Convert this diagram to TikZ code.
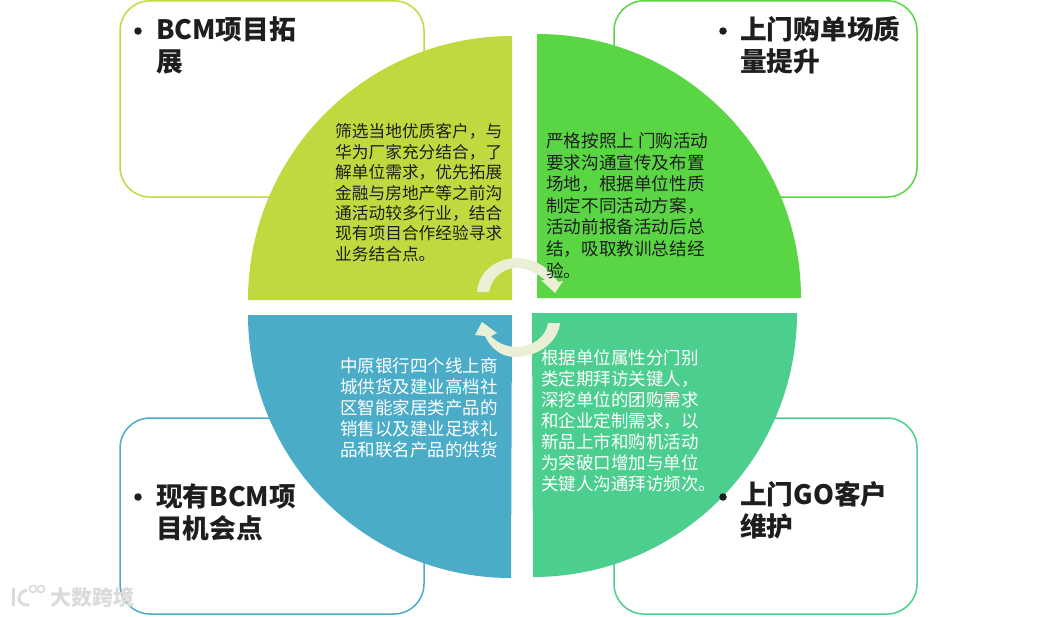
\documentclass[tikz,border=0pt]{standalone}
\usepackage{fontspec}
\setmainfont{Noto Sans CJK SC}
\usepackage{xcolor}
\usetikzlibrary{positioning}
\definecolor{limec}{HTML}{C1D93F}
\definecolor{grassc}{HTML}{5AD645}
\definecolor{tealc}{HTML}{4BACC8}
\definecolor{mintc}{HTML}{4BCE8E}
\definecolor{swirlc}{HTML}{E9F0D6}
\definecolor{inkc}{HTML}{1E1E1E}

\begin{document}
\begin{tikzpicture}[
    x=1pt, y=-1pt,
    card/.style={draw, line width=1.5pt, fill=white, rounded corners=30pt},
    body/.style={inner sep=0pt, anchor=north west, align=left},
    head/.style={inner sep=0pt, anchor=north west, align=left, text=inkc, font=\bfseries\fontsize{26.7}{32}\selectfont},
    dot/.style={circle, fill=inkc, inner sep=0pt, minimum size=7.5pt},
    swirl/.style={fill=swirlc}
]
\useasboundingbox (0,0) rectangle (1038,616);

% Cards
\draw[card, draw=limec] (120,0.8) rectangle (424,197);
\draw[card, draw=grassc] (614,0.8) rectangle (917,197);
\draw[card, draw=tealc] (120,418) rectangle (424,614);
\draw[card, draw=mintc] (614,418) rectangle (917,614);

% Quarter circles
\fill[limec] (512,300) -- (248,300) arc (180:270:264) -- cycle;
\fill[grassc] (537,298) -- (537,34) arc (270:360:264) -- cycle;
\fill[tealc] (512,315) -- (248,315) arc (180:90:263) -- cycle;
\fill[mintc] (532,313) -- (797,313) arc (0:90:264) -- cycle;

% Centre arrows
\fill[swirl] (477,292) .. controls (479,270) and (497,258) .. (518,258)
    .. controls (533,258) and (549,267) .. (558,282) -- (563,281) -- (555,293) -- (541,280) -- (545,280)
    .. controls (537,273) and (527,268) .. (517,268)
    .. controls (502,268) and (491,279) .. (489,292) -- cycle;
\fill[swirl] (560,323) .. controls (558,343) and (537,357) .. (515,357)
    .. controls (502,357) and (491,349) .. (485,336) -- (475,335) -- (482,322) -- (497,333) -- (491,336)
    .. controls (497,343) and (507,347) .. (517,347)
    .. controls (532,347) and (546,337) .. (548,323) -- cycle;

% Quarter texts
\node[body, text=inkc, font=\fontsize{16.7}{20.4}\selectfont] (limetext) at (335,123.5) {筛选当地优质客户，与\\华为厂家充分结合，了\\解单位需求，优先拓展\\金融与房地产等之前沟\\通活动较多行业，结合\\现有项目合作经验寻求\\业务结合点。};
\node[body, text=inkc, font=\fontsize{17.6}{21.6}\selectfont] (grasstext) at (546,132.5) {严格按照上 门购活动\\要求沟通宣传及布置\\场地，根据单位性质\\制定不同活动方案，\\活动前报备活动后总\\结，吸取教训总结经\\验。};
\node[body, text=white, font=\fontsize{17.5}{21}\selectfont] (tealtext) at (340,357.5) {中原银行四个线上商\\城供货及建业高档社\\区智能家居类产品的\\销售以及建业足球礼\\品和联名产品的供货};
\node[body, text=white, font=\fontsize{17.5}{21}\selectfont] (minttext) at (541,349) {根据单位属性分门别\\类定期拜访关键人，\\深挖单位的团购需求\\和企业定制需求，以\\新品上市和购机活动\\为突破口增加与单位\\关键人沟通拜访频次。};

% Card titles
\node[head] (limehead) at (156,16) {BCM项目拓\\展};
\node[dot] (limedot) at (138,31) {};
\node[head] (grasshead) at (740,16) {上门购单场质\\量提升};
\node[dot] (grassdot) at (723,31) {};
\node[head] (tealhead) at (156,483) {现有BCM项\\目机会点};
\node[dot] (tealdot) at (138,497) {};
\node[head] (minthead) at (740,481) {上门GO客户\\维护};
\node[dot] (mintdot) at (723,497) {};

% Watermark
\node[inner sep=0pt, anchor=west, text=gray!28, font=\bfseries\fontsize{21}{21}\selectfont] (mark) at (50,597) {大数跨境};
\draw[gray!28, line width=3pt] (13,588) -- (13,606);
\draw[gray!28, line width=3pt] (27,590) .. controls (16,592) and (16,606) .. (29,605);
\draw[gray!28, line width=1.6pt] (33,589) circle (3.5);
\draw[gray!28, line width=1.6pt] (41,589) circle (3.5);
\end{tikzpicture}
\end{document}
